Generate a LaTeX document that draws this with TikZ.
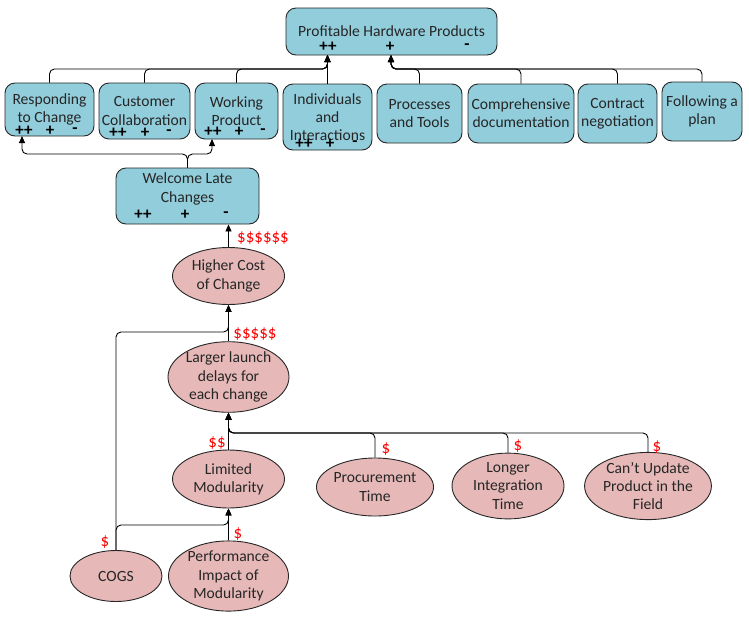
\documentclass[tikz,border=0pt]{standalone}
\usepackage{fontspec}
\setmainfont{Carlito}
\usetikzlibrary{shapes.geometric,arrows.meta}
\definecolor{boxfill}{HTML}{92CDDC}
\definecolor{ellfill}{HTML}{E6B9B8}
\definecolor{dollarred}{HTML}{FF0000}
\newcommand\fsz{\fontsize{15.6}{18.2}\selectfont}
\newcommand\fsg{\fontsize{17}{18}\selectfont}
\begin{document}
\begin{tikzpicture}[x=1pt,y=-1pt,
  box/.style={draw=black!85, fill=boxfill, rounded corners=10pt, line width=0.9pt, inner sep=0pt, align=center, font=\fsz, text=black!85},
  ell/.style={ellipse, draw=black!85, fill=ellfill, line width=0.9pt, inner sep=0pt, align=center, font=\fsz, text=black!85},
  sgn/.style={font=\fsg\bfseries, inner sep=0pt, text=black},
  dol/.style={font=\fsg, text=dollarred, inner sep=0pt},
  txt/.style={font=\fsz, align=center, inner sep=0pt, text=black!85},
  conn/.style={draw=black, line width=0.9pt, rounded corners=5pt},
  arr/.style={conn, -{Triangle[length=7pt,width=6pt]}}]
\useasboundingbox (0,0) rectangle (749,619);

% boxes
\node[box, minimum width=211, minimum height=47] (top) at (391.5,31.5) {Profitable Hardware Products};
\node[box, minimum width=89, minimum height=53] (rtc) at (49.5,109.5) {Responding\\to Change};
\node[box, minimum width=91, minimum height=56] (cc) at (144.5,111) {Customer\\Collaboration};
\node[box, minimum width=83, minimum height=56] (wp) at (236.5,111) {Working\\Product};
\node[box, minimum width=89, minimum height=66] (ii) at (327.5,117) {Individuals\\and\\Interactions};
\node[box, minimum width=85, minimum height=59] (pt) at (419.5,113.5) {Processes\\and Tools};
\node[box, minimum width=106, minimum height=59] (cd) at (521,113.5) {Comprehensive\\documentation};
\node[box, minimum width=79, minimum height=59] (cn) at (617.5,113.5) {Contract\\negotiation};
\node[box, minimum width=80, minimum height=59] (fp) at (702,111.5) {Following a\\plan};
\node[box, minimum width=143, minimum height=56] (wlc) at (187.5,196) {};
\node[txt] (wlct) at (187.5,189) {Welcome Late\\Changes};

% signs
\node[sgn] (s1a) at (328,47) {++};
\node[sgn] (s1b) at (390,47) {+};
\node[sgn] (s1c) at (467,47) {-};
\node[sgn] (s2a) at (24,131) {++};
\node[sgn] (s2b) at (50,131) {+};
\node[sgn] (s2c) at (75,131) {-};
\node[sgn] (s3a) at (118,133) {++};
\node[sgn] (s3b) at (145,133) {+};
\node[sgn] (s3c) at (169,133) {-};
\node[sgn] (s4a) at (213,132) {++};
\node[sgn] (s4b) at (239,132) {+};
\node[sgn] (s4c) at (263,132) {-};
\node[sgn] (s5a) at (304,144) {++};
\node[sgn] (s5b) at (330,144) {+};
\node[sgn] (s5c) at (355,144) {-};
\node[sgn] (s6a) at (143,215) {++};
\node[sgn] (s6b) at (185,215) {+};
\node[sgn] (s6c) at (226,215) {-};

% ellipses
\node[ell, minimum width=112, minimum height=57] (hcc) at (228.5,276) {Higher Cost\\of Change};
\node[ell, minimum width=121, minimum height=70] (lld) at (228.5,377) {Larger launch\\delays for\\each change};
\node[ell, minimum width=112, minimum height=58] (lm) at (228.5,479) {Limited\\Modularity};
\node[ell, minimum width=92, minimum height=51] (cogs) at (116,576) {COGS};
\node[ell, minimum width=120, minimum height=65] (pim) at (228.5,576) {Performance\\Impact of\\Modularity};
\node[ell, minimum width=112, minimum height=58] (prt) at (375,487) {Procurement\\Time};
\node[ell, minimum width=112, minimum height=59] (lit) at (508,486) {Longer\\Integration\\Time};
\node[ell, minimum width=120, minimum height=64] (cuf) at (648,486) {Can’t Update\\Product in the\\Field};

% dollar labels
\node[dol] (d1) at (263,238) {\$\$\$\$\$\$};
\node[dol] (d2) at (255,334) {\$\$\$\$\$};
\node[dol] (d3) at (217,443) {\$\$};
\node[dol] (d4) at (105,542) {\$};
\node[dol] (d5) at (238,534) {\$};
\node[dol] (d6) at (386,449) {\$};
\node[dol] (d7) at (518,446) {\$};
\node[dol] (d8) at (657,447) {\$};

% junctions
\coordinate (tL) at (327.5,55);
\coordinate (jL) at (327.5,69);
\coordinate (tR) at (391,55);
\coordinate (jR) at (391,69);
\coordinate (jW) at (187.5,154);
\coordinate (aR) at (22,136);
\coordinate (aW) at (212,139);
\coordinate (jC) at (228.5,332);
\coordinate (jD) at (228.5,433);
\coordinate (jM) at (228.5,525);

% connectors
\draw[arr] (rtc.north) |- (jL) -- (tL);
\draw[arr] (cc.north) |- (jL) -- (tL);
\draw[arr] (wp.north) |- (jL) -- (tL);
\draw[arr] (ii.north) -- (tL);
\draw[arr] (pt.north) |- (jR) -- (tR);
\draw[arr] (cd.north) |- (jR) -- (tR);
\draw[arr] (cn.north) |- (jR) -- (tR);
\draw[arr] (fp.north) |- (jR) -- (tR);
\draw[arr] (wlc.north) -- (jW) -| (aR);
\draw[arr] (wlc.north) -- (jW) -| (aW);
\draw[arr] (hcc.north) -- (hcc.north |- wlc.south);
\draw[arr] (lld.north) -- (hcc.south);
\draw[arr] (cogs.north) |- (jC) -- (hcc.south);
\draw[arr] (lm.north) -- (lld.south);
\draw[arr] (prt.north) |- (jD) -- (lld.south);
\draw[arr] (lit.north) |- (jD) -- (lld.south);
\draw[arr] (cuf.north) |- (jD) -- (lld.south);
\draw[arr] (cogs.north) |- (jM) -- (lm.south);
\draw[arr] (pim.north) -- (lm.south);
\end{tikzpicture}
\end{document}
